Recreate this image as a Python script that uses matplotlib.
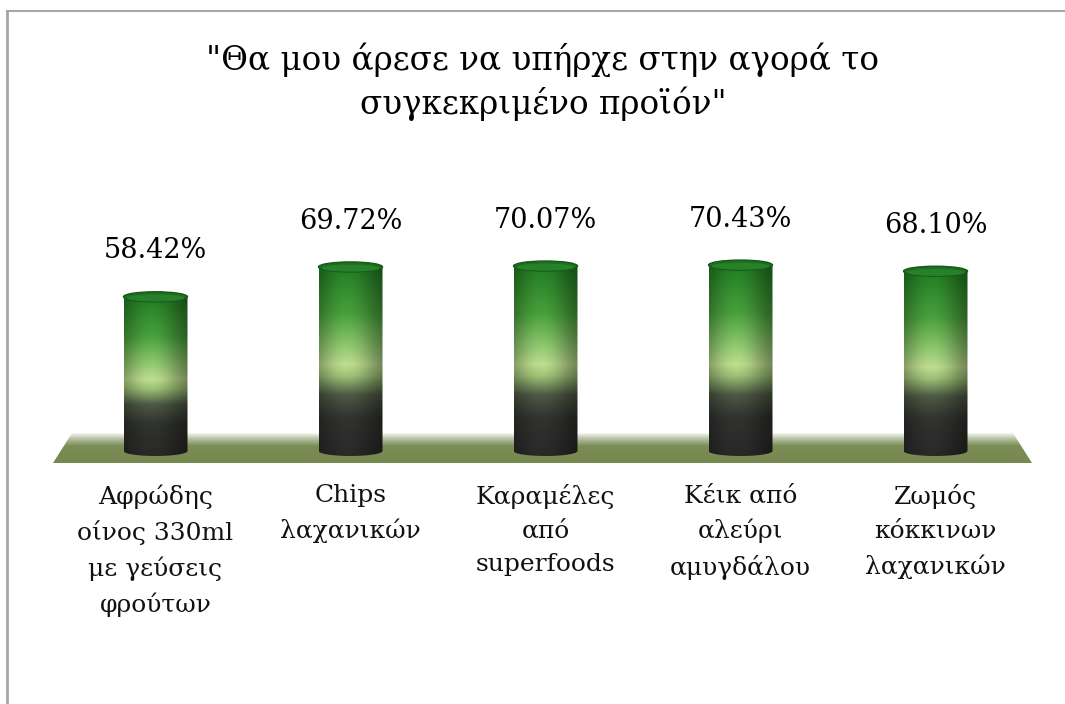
import numpy as np
import matplotlib
matplotlib.use("Agg")
import matplotlib.pyplot as plt
from matplotlib.patches import Ellipse, Polygon, PathPatch
from matplotlib.path import Path
from matplotlib.colors import LinearSegmentedColormap
from matplotlib.lines import Line2D

plt.rcParams['font.family'] = ['DejaVu Serif']

products = ["Αφρώδης\nοίνος 330ml\nμε γεύσεις\nφρούτων",
            "Chips\nλαχανικών",
            "Καραμέλες\nαπό\nsuperfoods",
            "Κέικ από\nαλεύρι\nαμυγδάλου",
            "Ζωμός\nκόκκινων\nλαχανικών"]
percent = [58.42, 69.72, 70.07, 70.43, 68.10]

title = "\"Θα μου άρεσε να υπήρχε στην αγορά το\nσυγκεκριμένο προϊόν\""

W, H = 1065, 704
fig = plt.figure(figsize=(W / 100, H / 100), dpi=100)
fig.patch.set_facecolor("white")

# axes: y = 0% at px 451, 2.64 px per %
ymin, ymax = -10, 80
ppu = 2.64
ax = fig.add_axes([50 / W, (H - 451 - ppu * -ymin) / H, 990 / W, ppu * (ymax - ymin) / H])
ax.axis("off")

px_y = 1 / ppu                   # data units per pixel (y)
px_x = 1 / 195                   # data units per pixel (x)

# floor: olive parallelogram fading to white along its back edge
floor_top, floor_bot = 18 * px_y, -12 * px_y
floor = Polygon([(-0.5 + 14 * px_x, floor_top), (4.5 - 20 * px_x, floor_top),
                 (4.5 - 1 * px_x, floor_bot), (-0.5 - 5 * px_x, floor_bot)],
                closed=True, facecolor="none", edgecolor="none")
ax.add_patch(floor)
floor_cmap = LinearSegmentedColormap.from_list(
    "floor", [(0, "#76894f"), (0.55, "#7b8d56"), (0.8, "#b9c4a6"), (1, "#ffffff")])
grad = np.linspace(0, 1, 64).reshape(-1, 1)
fim = ax.imshow(grad, cmap=floor_cmap, aspect="auto", origin="lower",
                extent=[-0.6, 4.6, floor_bot, floor_top], zorder=1,
                interpolation="bilinear")
fim.set_clip_path(floor)

# cylinder shading
body_cmap = LinearSegmentedColormap.from_list(
    "body", [(0.0, "#262626"), (0.2, "#2e302c"), (0.32, "#485340"),
             (0.42, "#93b56e"), (0.48, "#b2cf86"), (0.58, "#86bb68"),
             (0.75, "#449638"), (1.0, "#1f7421")])
ny, nx = 200, 80
t = np.linspace(0, 1, ny).reshape(-1, 1)
u = np.linspace(-1, 1, nx).reshape(1, -1)
shade = 0.62 + 0.45 * np.cos(np.clip(u + 0.15, -1.4, 1.4) * np.pi / 2.8) ** 2
shade = np.clip(shade, 0, 1.08)

cw = 64 * px_x          # cylinder width
eh = 10 * px_y          # ellipse height

for i, v in enumerate(percent):
    rgb = body_cmap(np.repeat(t, nx, axis=1))[..., :3] * shade[..., None]
    rgb = np.clip(rgb, 0, 1)
    x0, x1 = i - cw / 2, i + cw / 2
    # body outline: rectangle plus lower half ellipse
    th = np.linspace(np.pi, 2 * np.pi, 40)
    verts = [(x0, v)] + [(i + cw / 2 * np.cos(a), eh / 2 * np.sin(a)) for a in th] + [(x1, v), (x0, v)]
    clip = PathPatch(Path(verts, closed=True), facecolor="none", edgecolor="none")
    ax.add_patch(clip)
    im = ax.imshow(rgb, aspect="auto", origin="lower", extent=[x0, x1, -eh / 2, v],
                   zorder=3, interpolation="bilinear")
    im.set_clip_path(clip)
    ax.add_patch(Ellipse((i, v), cw, eh, facecolor="#1d6e1f", edgecolor="#155a17",
                         linewidth=1.0, zorder=4))
    ax.add_patch(Ellipse((i, v - eh * 0.12), cw * 0.9, eh * 0.7, facecolor="#27802a",
                         edgecolor="none", zorder=4))
    ax.annotate(f"{v:.2f}%", (i, v), xytext=(0, 33), textcoords="offset points",
                ha="center", va="center", fontsize=19.5, color="black")
    ax.annotate(products[i], (i, 0), xytext=(0, -24), textcoords="offset points",
                ha="center", va="top", fontsize=18, linespacing=1.58, color="#111111")

ax.set_xlim(-0.5 - 8 / 195, 4.5 + 7 / 195)
ax.set_ylim(ymin, ymax)

fig.text(543 / W, 1 - 82 / H, title, ha="center", va="center", fontsize=23.5,
         linespacing=1.35)

# chart area border (top and left edges)
fig.add_artist(Line2D([7 / W, 1], [1 - 11 / H, 1 - 11 / H], color="#a6a6a6", lw=1.5))
fig.add_artist(Line2D([7 / W, 7 / W], [0, 1 - 11 / H], color="#a6a6a6", lw=2))

fig.savefig("out.png", dpi=100)
